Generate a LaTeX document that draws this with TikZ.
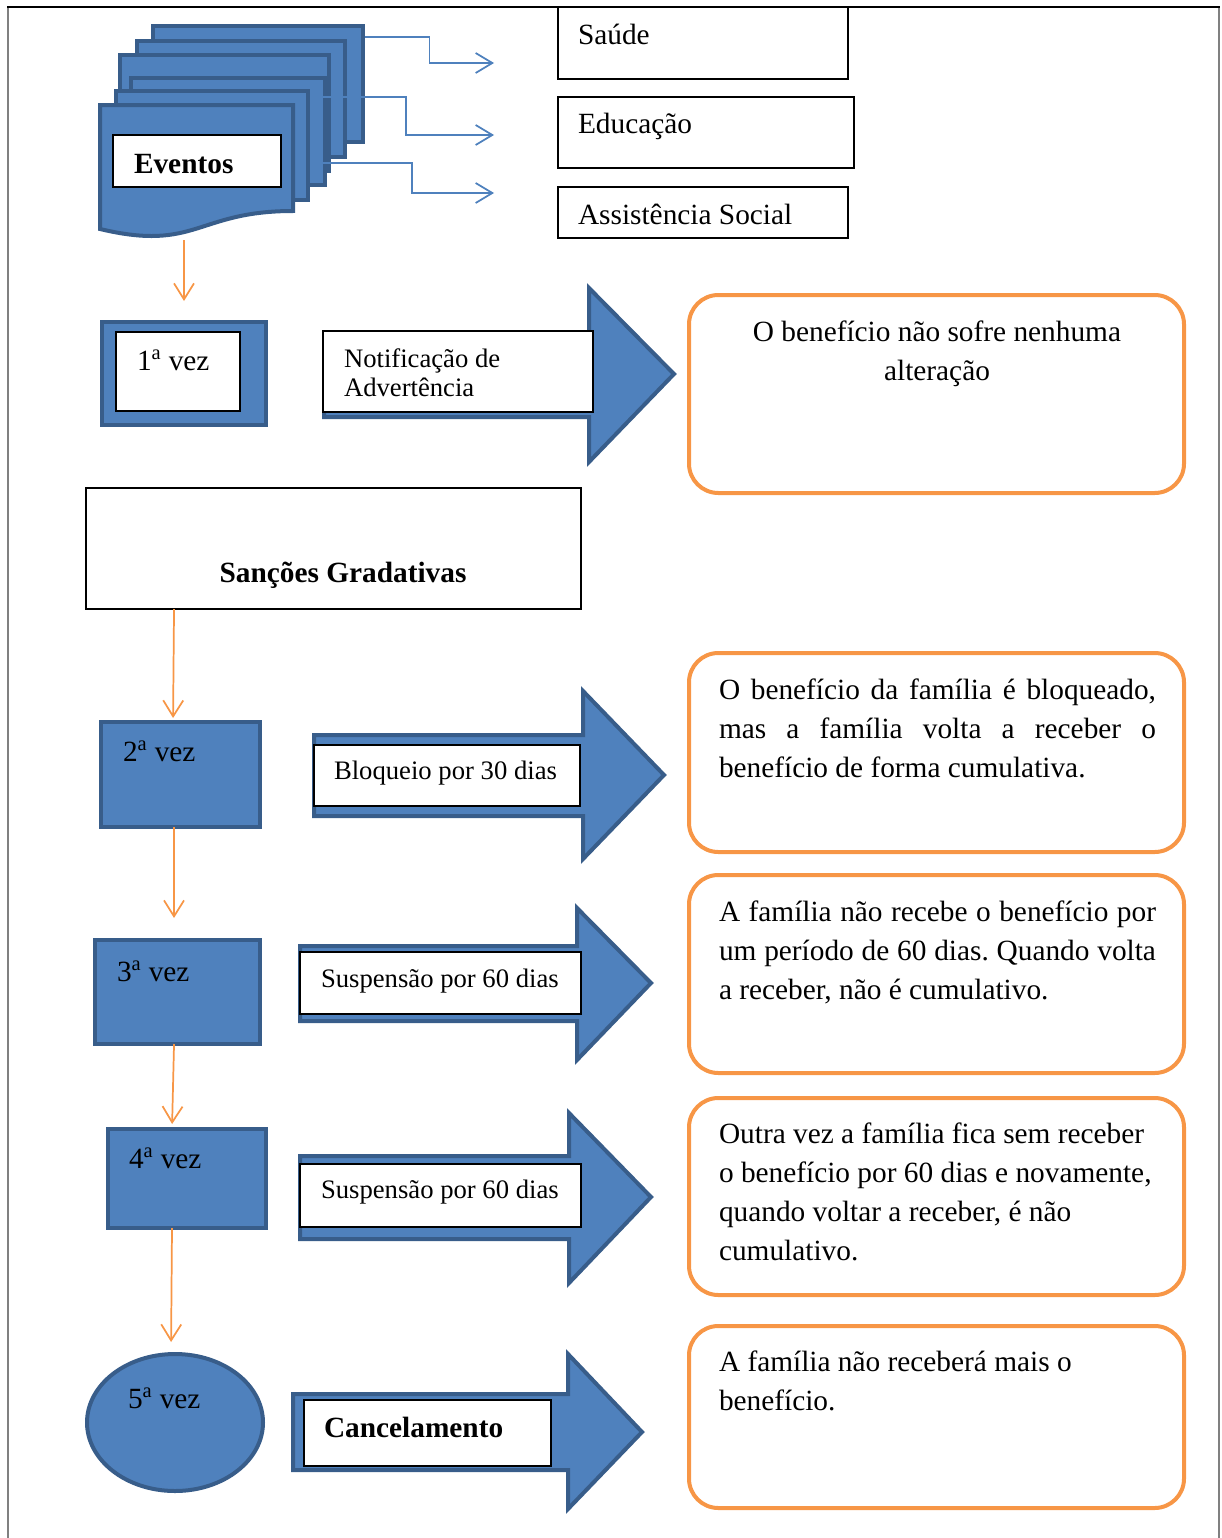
\documentclass[tikz,border=0pt]{standalone}
\usepackage{fontspec}
\setmainfont{Liberation Serif}
\usetikzlibrary{arrows.meta,fit,shapes.geometric,calc}
\definecolor{bfill}{HTML}{4F81BD}
\definecolor{bline}{HTML}{385D8A}
\definecolor{orng}{HTML}{F79646}
\definecolor{frameg}{HTML}{808080}
\hyphenpenalty=10000 \exhyphenpenalty=10000
\frenchspacing
\newcommand\blockarrow[8]{\draw[bshape] (#1,#2) -- (#4,#2) -- (#4,#5) -- (#7,#8) -- (#4,#6) -- (#4,#3) -- (#1,#3) -- cycle;}
\begin{document}
\begin{tikzpicture}[x=0.75pt,y=-0.75pt,
  every node/.style={font=\fontsize{22pt}{29.25pt}\selectfont, inner sep=0pt, outer sep=0pt},
  bshape/.style={fill=bfill, draw=bline, line width=3pt, line join=miter},
  wbox/.style={draw=black, fill=white, line width=0.9pt},
  tbox/.style={draw=black, line width=0.8pt},
  obox/.style={draw=orng, line width=3pt, rounded corners=22pt},
  oconn/.style={draw=orng, line width=1.3pt, -{Straight Barb[length=12pt,width=15pt]}},
  bconn/.style={draw=bfill, line width=1.3pt, -{Straight Barb[length=12.5pt,width=15pt]}},
  small/.style={font=\fontsize{20pt}{21.75pt}\selectfont},
  lbl/.style={anchor=base west},
]
\useasboundingbox (0,0) rectangle (1221,1538);

% frame
\draw[frameg, line width=2pt] (8,7) -- (8,1538);
\draw[frameg, line width=2pt] (1219,7) -- (1219,1538);
\draw[black, line width=1.5pt] (7,7) -- (1220,7);

% document stack
\draw[bshape] (153,26) rectangle (363,142);
\draw[bshape] (137,41) rectangle (345,157);
\draw[bshape] (120,55) rectangle (329,171);
\draw[bshape] (131,78) rectangle (325,185);
\draw[bshape] (116,91) rectangle (308,200);
\draw[bshape] (100,105) -- (293,105) -- (293,211) .. controls (196.5,211) and (196.5,252) .. (100,229) -- cycle;
\node[wbox, fit={(113,135)(281,187)}] (evbox) {};
\node[lbl] (evtxt) at (134,173) {\bfseries Eventos};

% blue connectors
\coordinate (s1) at (365,37);  \coordinate (e1) at (494,63);
\coordinate (s2) at (312,97);  \coordinate (e2) at (494,135);
\coordinate (s3) at (323,163); \coordinate (e3) at (494,193);
\draw[bconn] (s1) -| ($(s1)!0.5!(e1)$) |- (e1);
\draw[bconn] (s2) -| ($(s2)!0.516!(e2)$) |- (e2);
\draw[bconn] (s3) -| ($(s3)!0.52!(e3)$) |- (e3);

% area boxes
\node[tbox, fit={(558,7)(848,79)}] (sau) {};
\node[lbl] (sautxt) at (578,45) {Saúde};
\node[tbox, fit={(558,97)(854,168)}] (edu) {};
\node[lbl] (edutxt) at (578,133) {Educação};
\node[tbox, fit={(558,187)(848,238)}] (ass) {};
\node[lbl] (asstxt) at (578,224) {Assistência Social};

% 1a vez
\node[bshape, fit={(102,322)(266,425)}] (one) {};
\node[wbox, fit={(116,332)(240,411)}] (onein) {};
\node[lbl] (onetxt) at (137,370) {1\textsuperscript{a} vez};

% arrow 1
\blockarrow{324}{332}{417}{589}{288}{462}{674}{374}
\node[wbox, fit={(323,331)(593,412)}] (w1) {};
\node[small, anchor=base west, text width=240pt, align=flush left] (w1txt) at (344,367) {Notificação de\\Advertência};

% orange box 1
\draw[obox] (689,295) rectangle (1184,493);
\node[anchor=base, text width=345pt, align=flush center] (o1) at (937,341) {O benefício não sofre nenhuma\\alteração};

% sancoes
\node[tbox, fit={(86,488)(581,609)}] (sanc) {};
\node[anchor=base] (sanctxt) at (343,582) {\bfseries Sanções Gradativas};

% 2a vez
\node[bshape, fit={(101,722)(260,827)}] (two) {};
\node[lbl] (twotxt) at (123,761) {2\textsuperscript{a} vez};
\blockarrow{314}{735}{816}{583}{691}{859}{664}{775}
\node[wbox, fit={(314,745)(580,806)}] (w2) {};
\node[small, lbl] (w2txt) at (334,779) {Bloqueio por 30 dias};
\draw[obox] (689,653) rectangle (1184,852);
\node[anchor=base west, text width=327.75pt, align=justify] (o2) at (719,699) {O benefício da família é bloqueado,\linebreak mas a família volta a receber o\linebreak benefício de forma cumulativa.};

% 3a vez
\node[bshape, fit={(95,940)(260,1044)}] (three) {};
\node[lbl] (threetxt) at (117,981) {3\textsuperscript{a} vez};
\blockarrow{300}{946}{1021}{577}{908}{1060}{651}{983}
\node[wbox, fit={(300,952)(581,1014)}] (w3) {};
\node[small, lbl] (w3txt) at (321,987) {Suspensão por 60 dias};
\draw[obox] (689,875) rectangle (1184,1073);
\node[anchor=base west, text width=327.75pt, align=justify] (o3) at (719,921) {A família não recebe o benefício por\linebreak um período de 60 dias. Quando volta\linebreak a receber, não é cumulativo.};

% 4a vez
\node[bshape, fit={(108,1129)(266,1228)}] (four) {};
\node[lbl] (fourtxt) at (129,1168) {4\textsuperscript{a} vez};
\blockarrow{300}{1156}{1239}{569}{1113}{1283}{651}{1197}
\node[wbox, fit={(300,1164)(581,1227)}] (w4) {};
\node[small, lbl] (w4txt) at (321,1198) {Suspensão por 60 dias};
\draw[obox] (689,1098) rectangle (1184,1295);
\node[anchor=base west, text width=340pt, align=flush left] (o4) at (719,1143) {Outra vez a família fica sem receber\\o benefício por 60 dias e novamente,\\quando voltar a receber, é não\\cumulativo.};

% 5a vez
\node[bshape, ellipse, minimum width=132pt, minimum height=102.75pt] (five) at (175,1422.5) {};
\node[lbl] (fivetxt) at (128,1408) {5\textsuperscript{a} vez};
\blockarrow{293}{1394}{1470}{568}{1354}{1509}{642}{1432}
\node[wbox, fit={(304,1400)(551,1466)}] (w5) {};
\node[lbl] (w5txt) at (324,1437) {\bfseries Cancelamento};
\draw[obox] (689,1326) rectangle (1184,1508);
\node[anchor=base west, text width=340pt, align=flush left] (o5) at (719,1371) {A família não receberá mais o\\benefício.};

% orange connectors
\coordinate (evb) at (184,240);
\draw[oconn, shorten >=15.75pt] (evb) -- (one.north);
\draw[oconn, shorten >=3pt] ([xshift=-119.6pt]sanc.south) -- ([xshift=-5.6pt]two.north);
\draw[oconn, shorten >=16.5pt] ([xshift=-4.9pt]two.south) -- ([xshift=-2.6pt]three.north);
\draw[oconn, shorten >=3.75pt] ([xshift=-2.6pt]three.south) -- ([xshift=-11.25pt]four.north);
\draw[oconn, shorten >=9pt] ([xshift=-11.25pt]four.south) -- ([xshift=-3pt]five.north);
\end{tikzpicture}
\end{document}
